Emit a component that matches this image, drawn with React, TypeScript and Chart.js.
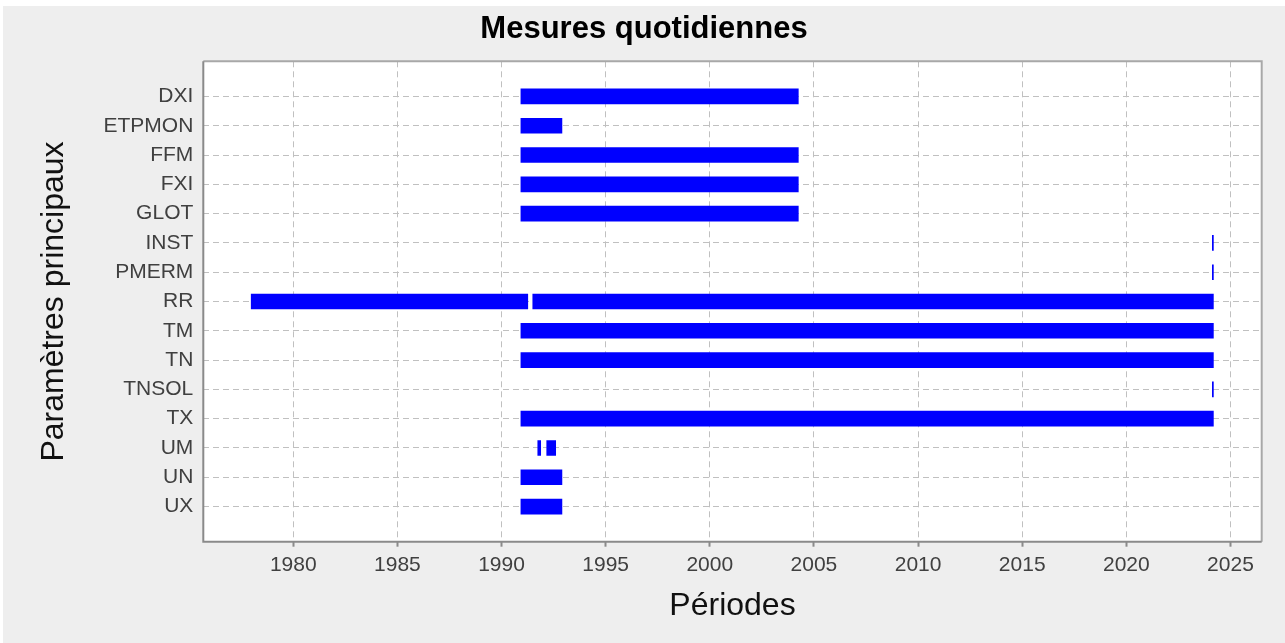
import React, { useEffect, useRef } from "react";
import { Chart, registerables } from "chart.js";

Chart.register(...registerables);

const categories = ["DXI", "ETPMON", "FFM", "FXI", "GLOT", "INST", "PMERM", "RR", "TM", "TN", "TNSOL", "TX", "UM", "UN", "UX"];

// periods of measurement: [category, start year, end year]
const segCategory = ["DXI", "ETPMON", "FFM", "FXI", "GLOT", "INST", "PMERM", "RR", "RR", "TM", "TN", "TNSOL", "TX", "UM", "UM", "UN", "UX"];
const segStart = [1990.93, 1990.93, 1990.93, 1990.93, 1990.93, 2024.13, 2024.13, 1977.98, 1991.5, 1990.93, 1990.93, 2024.13, 1990.93, 1991.74, 1992.17, 1990.93, 1990.93];
const segEnd = [2004.25, 1992.9, 2004.25, 2004.25, 2004.25, 2024.18, 2024.18, 1991.26, 2024.18, 2024.18, 2024.18, 2024.18, 2024.18, 1991.88, 1992.6, 1992.9, 1992.9];

const xTickYears = [1980, 1985, 1990, 1995, 2000, 2005, 2010, 2015, 2020, 2025];

const FONT = "'Liberation Sans', Arial, sans-serif";

const frame = {
  id: "frame",
  beforeDraw(chart: any) {
    const { ctx, chartArea: a } = chart;
    ctx.save();
    ctx.fillStyle = "#ffffff";
    ctx.fillRect(a.left, a.top, a.right - a.left, a.bottom - a.top);
    ctx.restore();
  },
  afterDraw(chart: any) {
    const { ctx, chartArea: a } = chart;
    ctx.save();
    ctx.strokeStyle = "#a8a8a8";
    ctx.lineWidth = 2;
    ctx.beginPath();
    ctx.moveTo(a.left, a.top);
    ctx.lineTo(a.right, a.top);
    ctx.lineTo(a.right, a.bottom);
    ctx.stroke();
    ctx.strokeStyle = "#8a8a8a";
    ctx.beginPath();
    ctx.moveTo(a.left, a.top);
    ctx.lineTo(a.left, a.bottom);
    ctx.lineTo(a.right, a.bottom);
    ctx.stroke();
    ctx.restore();
  },
};

export default function App() {
  const ref = useRef<HTMLCanvasElement>(null);
  useEffect(() => {
    if (!ref.current) return;
    const data = segCategory.map((c, i) => ({ x: [segStart[i], segEnd[i]], y: categories.indexOf(c) }));
    const chart = new Chart(ref.current, {
      type: "bar",
      data: {
        datasets: [
          {
            data: data as any,
            backgroundColor: "#0000ff",
            borderWidth: 0,
            barThickness: 15,
          },
        ],
      },
      plugins: [frame],
      options: {
        indexAxis: "y",
        responsive: false,
        animation: false,
        devicePixelRatio: 1,
        layout: { padding: 0 },
        plugins: {
          legend: { display: false },
          tooltip: { enabled: false },
          title: {
            display: true,
            text: "Mesures quotidiennes",
            color: "#000000",
            font: { family: FONT, size: 31, weight: "bold", lineHeight: 1.2 },
            padding: { top: 5, bottom: 13.1 },
          },
        },
        scales: {
          x: {
            type: "linear",
            min: 1975.68,
            max: 2026.5,
            afterBuildTicks: (s: any) => {
              s.ticks = xTickYears.map((v) => ({ value: v }));
            },
            afterFit: (s: any) => {
              s.height = 101.3;
            },
            ticks: {
              color: "#404040",
              font: { family: FONT, size: 21 },
              padding: 6,
              maxRotation: 0,
              callback: (v: any) => String(v),
            },
            grid: {
              color: "#c0c0c0",
              lineWidth: 1,
              tickColor: "#8a8a8a",
              tickLength: 5,
              tickWidth: 2,
              drawTicks: true,
              offset: false,
            },
            border: { display: false, dash: [6, 4] },
            title: {
              display: true,
              text: "Périodes",
              color: "#111111",
              font: { family: FONT, size: 32, lineHeight: 1.2 },
              padding: { top: 0, bottom: 17.8 },
            },
          },
          y: {
            type: "linear",
            reverse: true,
            offset: false,
            min: -1.2,
            max: 15.2,
            afterBuildTicks: (s: any) => {
              s.ticks = categories.map((_, i) => ({ value: i }));
            },
            afterFit: (s: any) => {
              s.width = 200.3;
            },
            ticks: {
              color: "#404040",
              font: { family: FONT, size: 21 },
              padding: 10,
              autoSkip: false,
              callback: (v: any) => categories[v] ?? "",
            },
            grid: {
              color: "#c0c0c0",
              lineWidth: 1,
              drawTicks: false,
              offset: false,
            },
            border: { display: false, dash: [6, 4] },
            title: {
              display: true,
              text: "Paramètres principaux",
              color: "#111111",
              font: { family: FONT, size: 32, lineHeight: 1.2 },
              padding: { top: 31.8, bottom: 0 },
            },
          },
          yRight: {
            type: "linear",
            position: "right",
            display: true,
            grid: { display: false, drawTicks: false },
            border: { display: false },
            ticks: { display: false },
            afterFit: (s: any) => {
              s.width = 23.3;
            },
          },
        },
      } as any,
    });
    return () => chart.destroy();
  }, []);
  return (
    <div style={{ position: "absolute", left: 3, top: 6, width: 1282, height: 637, background: "#eeeeee" }}>
      <canvas ref={ref} width={1282} height={637} style={{ display: "block" }} />
    </div>
  );
}
